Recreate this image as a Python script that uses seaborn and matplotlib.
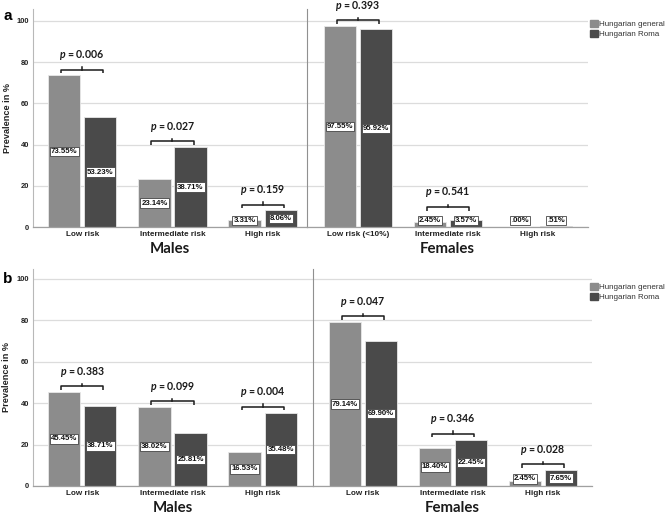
import matplotlib
matplotlib.use("Agg")
import matplotlib.pyplot as plt
import matplotlib.patches as mpatches
import seaborn as sns
import pandas as pd

# ---------------- data ----------------
groups = ["Hungarian general", "Hungarian Roma"]
cats_males = ["Low risk", "Intermediate risk", "High risk"]
cats_females_a = ["Low risk (<10%)", "Intermediate risk", "High risk"]
cats_females_b = ["Low risk", "Intermediate risk", "High risk"]

a_males_general = [73.55, 23.14, 3.31]
a_males_roma = [53.23, 38.71, 8.06]
a_females_general = [97.55, 2.45, 0.00]
a_females_roma = [95.92, 3.57, 0.51]

b_males_general = [45.45, 38.02, 16.53]
b_males_roma = [38.71, 25.81, 35.48]
b_females_general = [79.14, 18.40, 2.45]
b_females_roma = [69.90, 22.45, 7.65]

a_males_p = ["0.006", "0.027", "0.159"]
a_females_p = ["0.393", "0.541", None]
b_males_p = ["0.383", "0.099", "0.004"]
b_females_p = ["0.047", "0.346", "0.028"]

yticks = [0, 20, 40, 60, 80, 100]

# ---------------- style ----------------
plt.rcParams["font.family"] = ["Liberation Sans", "DejaVu Sans"]
plt.rcParams["mathtext.fontset"] = "custom"
plt.rcParams["mathtext.rm"] = "Lato"
plt.rcParams["mathtext.it"] = "Lato:italic"
plt.rcParams["mathtext.bf"] = "Lato:bold"
plt.rcParams["mathtext.bfit"] = "Lato:italic:bold"
C_GEN = "#8c8c8c"
C_ROMA = "#4a4a4a"
W, H = 668, 519
LATO = ["Lato", "DejaVu Sans"]

fig = plt.figure(figsize=(W / 100, H / 100), dpi=100)


def axes_px(x0, x1, ytop, ybot):
    return fig.add_axes([x0 / W, 1 - ybot / H, (x1 - x0) / W, (ybot - ytop) / H])


def fmt(v):
    s = f"{v:.2f}%"
    if v < 1:
        s = s.lstrip("0")
    return s


def panel(ax, cats, gen, roma, pvals, xlabel, ytop, xlim, is_left, minlab):
    df = pd.DataFrame({
        "risk": cats * 2,
        "group": [groups[0]] * len(cats) + [groups[1]] * len(cats),
        "value": gen + roma,
    })
    sns.barplot(data=df, x="risk", y="value", hue="group", order=cats,
                hue_order=groups, palette=[C_GEN, C_ROMA], width=0.8, gap=0.1,
                errorbar=None, legend=False, edgecolor="#e8e8e8", linewidth=0.6,
                ax=ax)
    ax.set_ylim(0, ytop)
    ax.set_xlim(*xlim)
    ax.set_yticks(yticks)
    ax.yaxis.grid(True, color="#dcdcdc", lw=0.9)
    ax.set_axisbelow(True)
    for s in ["top", "right"]:
        ax.spines[s].set_visible(False)
    ax.spines["bottom"].set_color("#a0a0a0")
    ax.spines["bottom"].set_linewidth(0.9)
    ax.spines["left"].set_color("#b8b8b8" if is_left else "#909090")
    ax.spines["left"].set_linewidth(0.8)
    ax.tick_params(axis="x", length=0, pad=3, colors="#222222")
    ax.tick_params(axis="y", length=0, pad=3, colors="#222222")
    for t in ax.get_xticklabels():
        t.set_fontsize(5.9)
        t.set_fontweight("bold")
    if is_left:
        for t in ax.get_yticklabels():
            t.set_fontsize(5.4)
            t.set_fontweight("bold")
        ax.set_ylabel("Prevalence in %", fontsize=6.6, fontweight="bold", color="#222222")
        ax.yaxis.set_label_coords(-0.078, 0.5)
    else:
        ax.set_yticklabels([])
        ax.set_ylabel("")
    ax.set_xlabel(xlabel, fontsize=10.8, fontweight="bold", family=LATO,
                  labelpad=3, color="#1a1a1a")

    # value labels
    for cont, vals in zip(ax.containers, [gen, roma]):
        for bar, v in zip(cont, vals):
            x = bar.get_x() + bar.get_width() / 2
            ax.text(x, max(v / 2, minlab), fmt(v), ha="center", va="center",
                    fontsize=5.6, fontweight="bold", color="#111111",
                    bbox=dict(boxstyle="square,pad=0.15", fc="white",
                              ec="#444444", lw=0.6), zorder=5)

    # p-value brackets
    for i, p in enumerate(pvals):
        if p is None:
            continue
        h = max(max(gen[i], roma[i]) + 2.8, 9.8)
        x0, x1 = i - 0.235, i + 0.235
        ax.plot([x0, x0, x1, x1], [h - 1.8, h, h, h - 1.8], color="#1a1a1a",
                lw=1.1, solid_capstyle="butt", clip_on=False, zorder=6)
        ax.plot([i, i], [h, h + 1.1], color="#1a1a1a", lw=1.1, clip_on=False, zorder=6)
        ax.text(i, h + 7, r"$\mathbfit{p}$" + f" = {p}", ha="center", va="center",
                fontsize=7.6, fontweight="bold", family=LATO, color="#1a1a1a",
                clip_on=False)


# ---------------- panel a ----------------
ax1 = axes_px(33, 307, 9, 227)
ax2 = axes_px(307, 588, 9, 227)
panel(ax1, cats_males, a_males_general, a_males_roma, a_males_p, "Males",
      105.8, (-0.544, 2.49), True, 3.0)
panel(ax2, cats_females_a, a_females_general, a_females_roma, a_females_p, "Females",
      105.8, (-0.567, 2.556), False, 3.0)

# ---------------- panel b ----------------
ax3 = axes_px(33, 313, 269, 486)
ax4 = axes_px(313, 592, 269, 486)
panel(ax3, cats_males, b_males_general, b_males_roma, b_males_p, "Males",
      104.8, (-0.544, 2.556), True, 3.4)
panel(ax4, cats_females_b, b_females_general, b_females_roma, b_females_p, "Females",
      104.8, (-0.556, 2.544), False, 3.4)

# ---------------- legends & panel letters ----------------
handles = [mpatches.Patch(color=C_GEN, label=groups[0]),
           mpatches.Patch(color=C_ROMA, label=groups[1])]
for ytop_px in (20, 283):
    fig.legend(handles=handles, loc="upper left",
               bbox_to_anchor=(590 / W, 1 - ytop_px / H), frameon=False,
               fontsize=5.8, handlelength=1.0, handleheight=1.0,
               handletextpad=0.1, labelspacing=0.2, borderpad=0,
               borderaxespad=0, labelcolor="#333333")

fig.text(8 / W, 1 - 16 / H, "a", fontsize=11, fontweight="bold", ha="center", va="center")
fig.text(8 / W, 1 - 279 / H, "b", fontsize=11, fontweight="bold", ha="center", va="center")

fig.savefig("out.png", dpi=100)
